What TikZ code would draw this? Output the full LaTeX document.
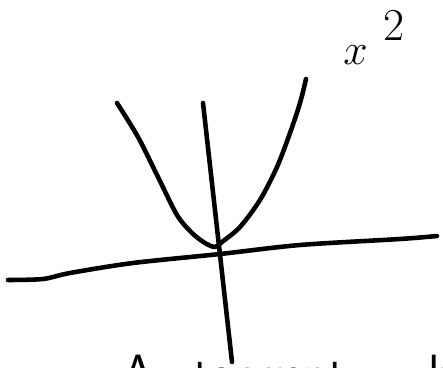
\documentclass[tikz,border=0pt]{standalone}
\usepackage{amsmath}
\usepackage{tikz}
\usetikzlibrary{positioning}

\tikzset{
  pen/.style={line width=2.6pt,line cap=round,line join=round,black},
  label/.style={inner sep=0pt,font=\fontsize{29}{30}\selectfont}
}

\begin{document}
\begin{tikzpicture}[x=0.02cm,y=-0.02cm]
  \useasboundingbox (0,0) rectangle (443,368);
  \clip (0,0) rectangle (443,368);
  % axes
  \draw[pen] plot[smooth,tension=0.5] coordinates {(8,280) (43,279) (70,273) (133,263) (220,254) (300,245) (400,239) (437,236)};
  \draw[pen] (203,103) -- (232,362);
  % the curve
  \draw[pen] plot[smooth,tension=0.5] coordinates {(117,103) (138,137) (158,177) (177,215) (192,233) (205,243) (215,247) (222,242) (240,227) (260,200) (277,167) (290,133) (300,103) (306,79)};
  \node[label,anchor=base west] (sq) at (343,65) {$x$\hspace{9pt}\raisebox{14pt}{\fontsize{26}{26}\selectfont 2}};
  % text cut off at the bottom
  \node[label,anchor=base west] (wa) at (122,390) {\sffamily A};
  \node[label,anchor=base west] (wb) at (193,390) {\sffamily tangent,};
  \node[label,anchor=base west] (wc) at (428,390) {\sffamily b};
\end{tikzpicture}
\end{document}
